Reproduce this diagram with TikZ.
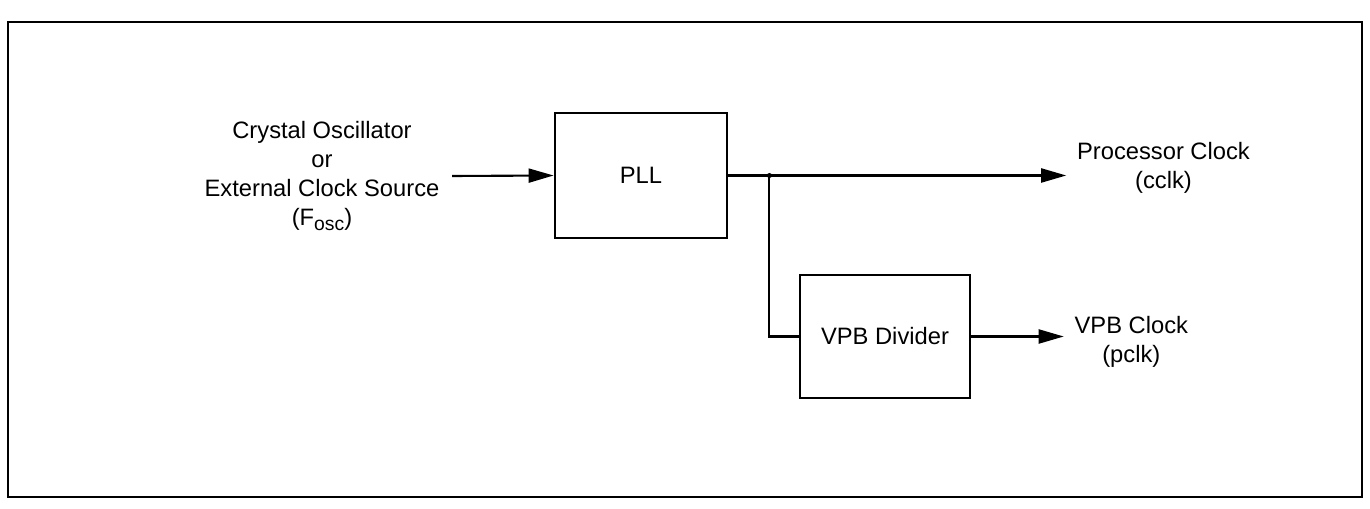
\documentclass[tikz,border=0pt]{standalone}
\usepackage{fontspec}
\setmainfont{Liberation Sans}
\usetikzlibrary{arrows.meta, positioning}

\newcommand{\osclow}[1]{\raisebox{-0.35ex}{\fontsize{11}{11}\selectfont #1}}

\begin{document}
\begin{tikzpicture}[
    >={Triangle[length=5mm, width=2.8mm]},
    font=\fontsize{13.5}{16.5}\selectfont,
    block/.style={draw, line width=1.6pt, minimum width=3.44cm, minimum height=2.5cm},
    wire/.style={line width=1.2pt},
    sig/.style={align=center, inner sep=1pt},
]

\useasboundingbox (0,0) rectangle (27.4,10.16);

% Outer frame
\draw[line width=1.6pt] (0.16,0.22) rectangle (27.24,9.72);

% Blocks
\node[block] (pll) at (12.82,6.65) {PLL};
\node[block, minimum width=3.4cm, minimum height=2.46cm] (vpb) at (17.7,3.43) {VPB Divider};

% Signal labels
\node[sig] (osc) at (6.44,6.64)
    {Crystal Oscillator\\or\\External Clock Source\\(F\osclow{osc})};
\node[sig, anchor=west] (cclk) at (21.5,6.8) {Processor Clock\\(cclk)};
\node[sig, anchor=west] (pclk) at (21.45,3.32) {VPB Clock\\(pclk)};

% Connectors
\coordinate[right=0.82cm of pll.east] (jn);
\draw[wire, ->] (osc.east -| 9.04,0) -- (pll.west);
\draw[wire, ->, shorten >=5pt] (pll.east) -- (pll.east -| cclk.west);
\draw[wire] (jn) |- (vpb.west);
\fill (jn) circle (0.05);
\draw[wire, ->, shorten >=5pt] (vpb.east) -- (vpb.east -| pclk.west);

\end{tikzpicture}
\end{document}
